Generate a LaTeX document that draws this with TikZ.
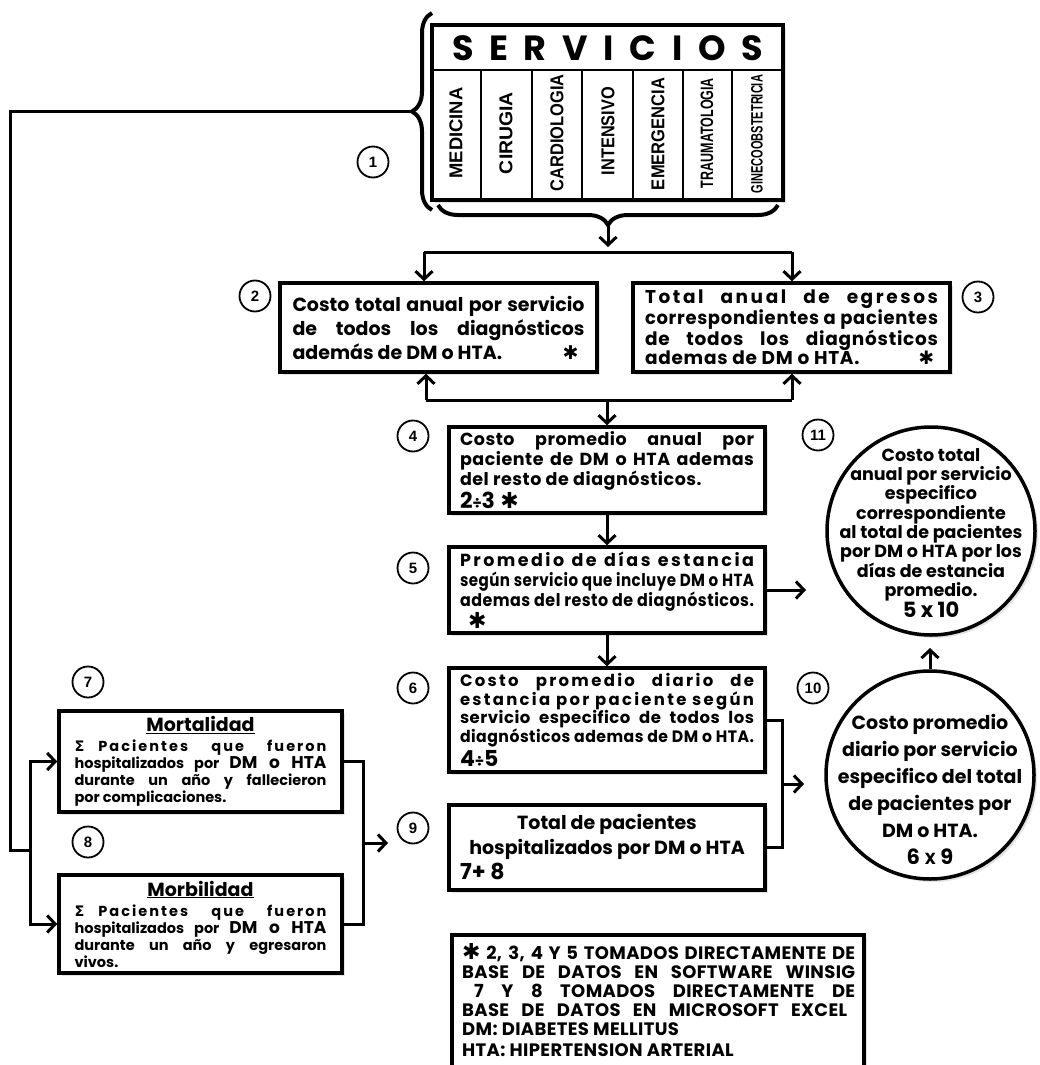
\documentclass[tikz,border=0pt]{standalone}
\usepackage{fontspec}
\setmainfont{Poppins}
\newfontfamily\djv{DejaVu Sans}
\newfontfamily\arl{Liberation Sans}
\usetikzlibrary{arrows.meta,decorations.pathreplacing,shadows}
\newlength\LW
\newsavebox\fitsb
\newcommand\fitbox[2]{\sbox\fitsb{#2}\ifdim\wd\fitsb>\LW\edef\fita{\the\LW}\edef\fitb{\the\wd\fitsb}\pgfmathsetmacro\fitrat{\fita/\fitb}\scalebox{\fitrat}[1]{\usebox\fitsb}\else\makebox[\LW][#1]{#2}\fi}
\newcommand\JLine[1]{\fitbox{s}{#1}}
\newcommand\LLine[1]{\fitbox{l}{#1}}
\newcommand\CLine[1]{\fitbox{c}{#1}}
\newcommand\Trk[1]{{\addfontfeature{LetterSpace=14}#1}}
\newcommand\Stk{{\djv\mdseries ✱}}
\newcommand\Sig{{\djv Σ}}
\newcommand\fs[2]{\fontsize{#1}{#2}\selectfont}
\newcommand\setLW[1]{\global\LW=#1\relax}
\newcommand\ls[1]{\addfontfeature{LetterSpace=#1}}
\begin{document}
\begin{tikzpicture}[x=1pt,y=-1pt,
  lin/.style={line width=3pt},
  arr/.style={line width=3pt,-{Straight Barb[length=8pt,width=17pt]}},
  shd/.style={drop shadow={opacity=0.22,shadow xshift=3pt,shadow yshift=-3pt}},
  box/.style={draw,line width=3.5pt,fill=white,shd,inner sep=0pt,align=left},
  num/.style={circle,draw,line width=1.8pt,minimum size=31pt,inner sep=0pt,font=\arl\bfseries\fs{15}{15}},
  bub/.style={circle,draw,line width=3.5pt,fill=white,shd,minimum size=208pt,inner sep=0pt},
  brc/.style={decorate,decoration={brace,amplitude=20pt},line width=4pt},
  vlab/.style={rotate=90,inner sep=0pt}
]
\useasboundingbox (0,0) rectangle (1039,1065);
\clip (0,0) rectangle (1039,1065);

% ---------- SERVICIOS ----------
\node[draw,line width=4pt,fill=white,shd,minimum width=351pt,minimum height=175pt,inner sep=0pt] (serv) at (607.5,112.5) {};
\node[inner sep=0pt,font=\bfseries\fs{35}{35}] (servt) at (607.5,48) {\makebox[311pt]{S\hfill E\hfill R\hfill V\hfill I\hfill C\hfill I\hfill O\hfill S}};
\coordinate (hl) at (0,70);
\draw[line width=2.5pt] (serv.west |- hl) -- (serv.east |- hl);
\foreach \x in {481,532,582,633,683,732} \draw[line width=2pt] (\x,70) -- (\x,200);
\node[vlab] (s1) at (456,133) {\resizebox{91pt}{13pt}{\arl\bfseries MEDICINA}};
\node[vlab] (s2) at (506,133) {\resizebox{82pt}{13pt}{\arl\bfseries CIRUGIA}};
\node[vlab] (s3) at (557,133) {\resizebox{117pt}{13pt}{\arl\bfseries CARDIOLOGIA}};
\node[vlab] (s4) at (608,131) {\resizebox{88pt}{13pt}{\arl\bfseries INTENSIVO}};
\node[vlab] (s5) at (658,134) {\resizebox{112pt}{13pt}{\arl\bfseries EMERGENCIA}};
\node[vlab] (s6) at (707,133) {\resizebox{110pt}{12.5pt}{\arl\bfseries TRAUMATOLOGIA}};
\node[vlab] (s7) at (757,134) {\resizebox{118pt}{11.5pt}{\arl\bfseries GINECOOBSTETRICIA}};

% braces
\draw[brc] (432,210) -- (432,13);
\draw[brc] (778,205) -- (438,205);
\coordinate (lb) at (412,111);
\coordinate (bb) at (608,225);

% ---------- boxes ----------
\node[box,minimum width=317pt,minimum height=89pt,font={\bfseries\fs{19}{24}\setLW{292pt}}] (b2) at (438.5,327.5)
 {\JLine{Costo total anual por servicio}\\
  \JLine{de todos los diagnósticos}\\
  \LLine{además de DM o HTA.\hfill\Stk\hspace*{6pt}}};
\node[box,minimum width=317pt,minimum height=89pt,font={\bfseries\fs{18.5}{19}\ls{4}\setLW{293pt}}] (b3) at (791.5,327.5)
 {\JLine{\Trk{Total anual de egresos}}\\
  \JLine{correspondientes a pacientes}\\
  \JLine{de todos los diagnósticos}\\
  \LLine{ademas de DM o HTA.\hfill\Stk\hspace*{4pt}}};
\node[box,minimum width=316pt,minimum height=86pt,font={\bfseries\fs{17.5}{20}\ls{3}\setLW{294pt}}] (b4) at (607,470)
 {\JLine{Costo promedio anual por}\\
  \JLine{paciente de DM o HTA ademas}\\
  \LLine{del resto de diagnósticos.}\\
  \LLine{\fs{22}{22}2{\fs{15}{15}÷}3 \Stk}};
\node[box,minimum width=316pt,minimum height=86pt,font={\bfseries\fs{17.5}{20}\ls{3}\setLW{294pt}}] (b5) at (607,590)
 {\JLine{\Trk{Promedio de días estancia}}\\
  \JLine{según servicio que incluye DM o HTA}\\
  \LLine{ademas del resto de diagnósticos.}\\
  \LLine{\hspace*{8pt}\fs{22}{22}\Stk}};
\node[box,minimum width=316pt,minimum height=104pt,font={\bfseries\fs{16.5}{18}\ls{3}\setLW{294pt}}] (b6) at (607,720)
 {\JLine{\Trk{Costo promedio diario de}}\\
  \JLine{\Trk{estancia por paciente según}}\\
  \JLine{servicio especifico de todos los}\\
  \JLine{diagnósticos ademas de DM o HTA.}\\[2pt]
  \LLine{\fs{22}{22}4{\fs{15}{15}÷}5}};
\node[box,minimum width=316pt,minimum height=85pt,font={\bfseries\fs{19}{25}\setLW{294pt}}] (b9) at (607,847.5)
 {\CLine{Total de pacientes}\\
  \CLine{hospitalizados por DM o HTA}\\
  \LLine{\fs{22}{22}7+ 8}};
\node[box,minimum width=283pt,minimum height=101pt,font={\bfseries\fs{14.5}{17}\setLW{252pt}}] (b7) at (200.5,761.5)
 {\CLine{\fs{19}{19}\underline{Mortalidad}}\\[3pt]
  \JLine{\Sig\ \Trk{Pacientes que fueron}}\\
  \JLine{hospitalizados por {\fs{17}{17}DM o HTA}}\\
  \JLine{durante un año y fallecieron}\\
  \LLine{por complicaciones.}};
\node[box,minimum width=283pt,minimum height=98pt,font={\bfseries\fs{14.5}{17}\setLW{252pt}}] (b8) at (200.5,924)
 {\CLine{\fs{19}{19}\underline{Morbilidad}}\\[3pt]
  \JLine{\Sig\ \Trk{Pacientes que fueron}}\\
  \JLine{hospitalizados por {\fs{17}{17}DM o HTA}}\\
  \JLine{durante un año y egresaron}\\
  \LLine{vivos.}};

% legend
\node[box,anchor=north west,minimum width=412pt,minimum height=150pt] (leg) at (450,933) {};
\node[anchor=north west,inner sep=0pt,align=left,font={\bfseries\fs{18}{19}\ls{2}\setLW{393pt}}] (legt) at (462,943)
 {\JLine{{\fs{22}{19}\Stk} 2, 3, 4 Y 5 TOMADOS DIRECTAMENTE DE}\\
  \JLine{BASE DE DATOS EN SOFTWARE WINSIG}\\
  \JLine{\hspace*{12pt}7 Y 8 TOMADOS DIRECTAMENTE DE}\\
  \JLine{BASE DE DATOS EN MICROSOFT EXCEL\hspace*{8pt}}\\
  \LLine{DM: DIABETES MELLITUS}\\[2pt]
  \LLine{HTA: HIPERTENSION ARTERIAL}};

% circles
\node[bub] (c11) at (931,531) {};
\node[align=center,inner sep=0pt,font=\bfseries\fs{17.5}{19.3}] (c11t) at (931,533)
 {Costo total\\anual por servicio\\especifico\\correspondiente\\al total de pacientes\\por DM o HTA por los\\días de estancia\\promedio.\\{\fs{21}{21}5 x 10}};
\node[bub] (c10) at (930,775) {};
\node[align=center,inner sep=0pt,font=\bfseries\fs{19}{27}] (c10t) at (930,789)
 {Costo promedio\\diario por servicio\\especifico del total\\de pacientes por\\DM o HTA.\\{\fs{21}{21}6 {\fs{16}{16}X} 9}};

% number labels
\node[num] (n1) at (373,162) {1};
\node[num] (n2) at (255,296) {2};
\node[num] (n3) at (978,297) {3};
\node[num] (n4) at (413,436) {4};
\node[num] (n5) at (413,568) {5};
\node[num] (n6) at (413,688) {6};
\node[num] (n7) at (88,682) {7};
\node[num] (n8) at (88,842) {8};
\node[num] (n9) at (413,828) {9};
\node[num] (n10) at (813,688) {10};
\node[num] (n11) at (818,435) {11};

% ---------- connectors ----------
\coordinate (c1) at (10,111);
\coordinate (c2) at (10,850);
\coordinate (c3) at (30,850);
\draw[lin] (lb) -- (c1) -- (c2) -- (c3);
\draw[arr] (c3) |- (b7.west);
\draw[arr] (c3) |- (b8.west);

\coordinate (t1) at (608,247);
\draw[arr] (bb) -- (t1);
\coordinate (t2) at (424,252);
\coordinate (t3) at (792,252);
\draw[lin] (t2) -- (t3);
\draw[arr] (t2) -- (t2 |- b2.north);
\draw[arr] (t3) -- (t3 |- b3.north);

\coordinate (j2) at (426,400);
\coordinate (j3) at (792,400);
\coordinate (jm) at (607,400);
\draw[lin] (j2) -- (j3);
\draw[arr] (j2) -- (j2 |- b2.south);
\draw[arr] (j3) -- (j3 |- b3.south);
\draw[arr] (jm) -- (b4.north);

\draw[arr] (b4) -- (b5);
\draw[arr] (b5) -- (b6);

\coordinate (a5) at (806,590);
\draw[arr] (b5.east) -- (a5);

\coordinate (k69) at (782,784);
\coordinate (a10) at (804,784);
\draw[lin] (b6.east) -| (k69) |- (b9.east);
\draw[arr] (k69) -- (a10);

\coordinate (k78) at (363,843);
\coordinate (a9) at (388,843);
\draw[lin] (b7.east) -| (k78) |- (b8.east);
\draw[arr] (k78) -- (a9);

\coordinate (a11) at (930,648);
\draw[arr] (c10.north) -- (a11);
\end{tikzpicture}
\end{document}
